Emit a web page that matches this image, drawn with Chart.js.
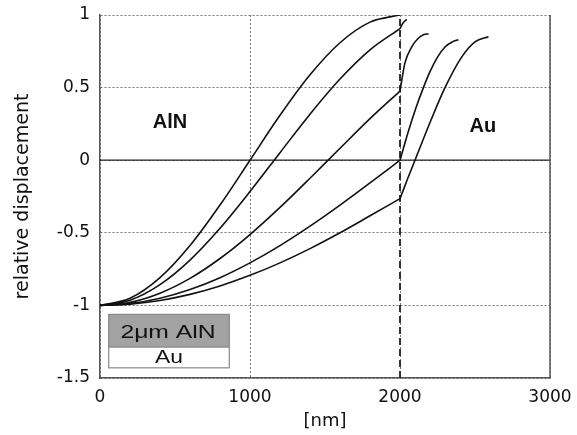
<!DOCTYPE html>
<html>
<head>
<meta charset="utf-8">
<script src="https://cdn.jsdelivr.net/npm/chart.js@4.4.1/dist/chart.umd.min.js"></script>
<style>
  html, body { margin: 0; padding: 0; background: #fff; }
</style>
</head>
<body>
<canvas id="grafico" width="577" height="435"></canvas>
<script>
// posicoes ao longo da espessura [nm], camada AlN (0-2000)
const xAlN = [0, 200, 400, 600, 800, 1000, 1200, 1400, 1600, 1800, 2000];
const alnCurva1 = [-1, -0.951, -0.809, -0.588, -0.309, 0, 0.309, 0.588, 0.809, 0.951, 1];
const alnCurva2 = [-1, -0.964, -0.857, -0.688, -0.469, -0.216, 0.052, 0.317, 0.559, 0.760, 0.906];
const alnCurva3 = [-1, -0.979, -0.916, -0.814, -0.677, -0.512, -0.325, -0.124, 0.082, 0.286, 0.476];
const alnCurva4 = [-1, -0.988, -0.951, -0.891, -0.809, -0.707, -0.588, -0.454, -0.309, -0.156, 0];
const alnCurva5 = [-1, -0.991, -0.966, -0.924, -0.866, -0.793, -0.707, -0.609, -0.5, -0.383, -0.265];

// camada Au (a partir de 2000)
const xAu2 = [2000, 2020, 2045];
const auCurva2 = [0.906, 0.945, 0.97];
const xAu3 = [2000, 2033, 2078, 2122, 2160, 2190];
const auCurva3 = [0.476, 0.67, 0.78, 0.84, 0.865, 0.87];
const xAu4 = [2000, 2056, 2106, 2156, 2200, 2250, 2300, 2350, 2390];
const auCurva4 = [0, 0.20, 0.36, 0.50, 0.61, 0.71, 0.78, 0.815, 0.83];
const xAu5 = [2000, 2050, 2100, 2200, 2300, 2411, 2500, 2590];
const auCurva5 = [-0.265, -0.13, 0, 0.26, 0.50, 0.71, 0.815, 0.85];

const interfaceX = 2000;
const xTicks = [0, 1000, 2000, 3000];
const yTicks = [-1.5, -1, -0.5, 0, 0.5, 1];

function pontos(xs, ys) {
  return xs.map((x, i) => ({ x: x, y: ys[i] }));
}

function curva(xs, ys) {
  return {
    data: pontos(xs, ys),
    borderColor: "#111",
    borderWidth: 1.6,
    pointRadius: 0,
    cubicInterpolationMode: "monotone",
    fill: false
  };
}

function textoEsticado(ctx, texto, x, y, fonte, escala) {
  ctx.save();
  ctx.font = fonte;
  ctx.textAlign = "center";
  ctx.textBaseline = "middle";
  ctx.translate(x, y);
  ctx.scale(escala, 1);
  ctx.fillText(texto, 0, 0);
  ctx.restore();
}

const decoracao = {
  id: "decoracao",
  afterDatasetsDraw(chart) {
    const ctx = chart.ctx;
    const xs = chart.scales.x;
    const ys = chart.scales.y;
    const area = chart.chartArea;

    // borda direita
    ctx.save();
    ctx.strokeStyle = "#555";
    ctx.lineWidth = 1.5;
    ctx.beginPath();
    ctx.moveTo(area.right, area.top);
    ctx.lineTo(area.right, area.bottom);
    ctx.stroke();

    // rotulos das camadas
    ctx.fillStyle = "#111";
    ctx.font = "bold 20px 'Liberation Sans', Arial, sans-serif";
    ctx.textAlign = "center";
    ctx.textBaseline = "middle";
    ctx.fillText("AlN", xs.getPixelForValue(467), ys.getPixelForValue(0.26));
    ctx.fillText("Au", xs.getPixelForValue(2553), ys.getPixelForValue(0.23));

    // caixinha com as camadas
    const x0 = xs.getPixelForValue(58);
    const x1 = xs.getPixelForValue(862);
    const yA = ys.getPixelForValue(-1.062);
    const yB = ys.getPixelForValue(-1.288);
    const yC = ys.getPixelForValue(-1.43);
    ctx.fillStyle = "#a2a2a2";
    ctx.fillRect(x0, yA, x1 - x0, yB - yA);
    ctx.fillStyle = "#fff";
    ctx.fillRect(x0, yB, x1 - x0, yC - yB);
    ctx.strokeStyle = "#888";
    ctx.lineWidth = 1.2;
    ctx.strokeRect(x0, yA, x1 - x0, yC - yA);
    ctx.beginPath();
    ctx.moveTo(x0, yB);
    ctx.lineTo(x1, yB);
    ctx.stroke();

    ctx.fillStyle = "#111";
    const cx = (x0 + x1) / 2;
    textoEsticado(ctx, "2\u03bcm AlN", cx - 1, (yA + yB) / 2 + 2, "19px 'Liberation Sans', Arial, sans-serif", 1.3);
    textoEsticado(ctx, "Au", cx, (yB + yC) / 2, "19px 'Liberation Sans', Arial, sans-serif", 1.2);
    ctx.restore();
  }
};

const datasets = [
  curva(xAlN, alnCurva1),
  curva(xAlN, alnCurva2),
  curva(xAlN, alnCurva3),
  curva(xAlN, alnCurva4),
  curva(xAlN, alnCurva5),
  curva(xAu2, auCurva2),
  curva(xAu3, auCurva3),
  curva(xAu4, auCurva4),
  curva(xAu5, auCurva5),
  {
    // linha do zero
    data: [{ x: xTicks[0], y: 0 }, { x: xTicks[xTicks.length - 1], y: 0 }],
    borderColor: "#222",
    borderWidth: 1.2,
    pointRadius: 0,
    tension: 0
  },
  {
    // interface AlN / Au
    data: [{ x: interfaceX, y: yTicks[0] }, { x: interfaceX, y: yTicks[yTicks.length - 1] }],
    borderColor: "#222",
    borderWidth: 1.8,
    borderDash: [7, 4],
    pointRadius: 0,
    tension: 0
  }
];

const fonteTicks = { family: "'DejaVu Sans', sans-serif", size: 17 };

new Chart(document.getElementById("grafico"), {
  type: "line",
  data: { datasets: datasets },
  options: {
    responsive: false,
    animation: false,
    layout: { padding: { left: 0, top: 15, right: 27, bottom: 0 } },
    plugins: {
      legend: { display: false },
      tooltip: { enabled: false }
    },
    scales: {
      x: {
        type: "linear",
        min: xTicks[0],
        max: xTicks[xTicks.length - 1],
        afterBuildTicks: (s) => { s.ticks = xTicks.map(v => ({ value: v })); },
        afterFit: (s) => { s.height = 57; s.paddingLeft = 0; s.paddingRight = 0; },
        ticks: { color: "#111", font: fonteTicks, padding: 9, maxRotation: 0, callback: (v) => String(v) },
        grid: { color: "#777", lineWidth: 1, drawTicks: false },
        border: { color: "#555", width: 1.5, dash: [2, 2] },
        title: {
          display: true,
          text: "[nm]",
          color: "#111",
          font: { family: "'DejaVu Sans', sans-serif", size: 18 },
          padding: { top: 0, bottom: 3 }
        }
      },
      y: {
        type: "linear",
        min: yTicks[0],
        max: yTicks[yTicks.length - 1],
        afterBuildTicks: (s) => { s.ticks = yTicks.map(v => ({ value: v })); },
        afterFit: (s) => { s.width = 100; s.paddingTop = 0; s.paddingBottom = 0; },
        ticks: { color: "#111", font: fonteTicks, padding: 10, callback: (v) => String(v) },
        grid: { color: "#777", lineWidth: 1, drawTicks: false },
        border: { color: "#555", width: 1.5, dash: [2, 2] },
        title: {
          display: true,
          text: "relative displacement",
          color: "#111",
          font: { family: "'DejaVu Sans', sans-serif", size: 19 },
          padding: { top: 12, bottom: 0 }
        }
      }
    }
  },
  plugins: [decoracao]
});
</script>
</body>
</html>
